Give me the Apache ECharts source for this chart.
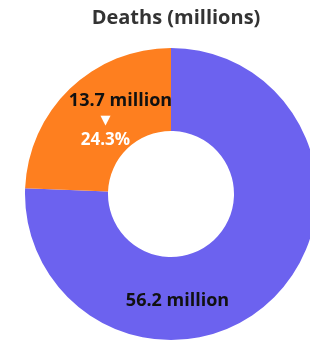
<!DOCTYPE html>
<html>
<head>
<meta charset="utf-8">
<script src="https://cdn.jsdelivr.net/npm/echarts@6/dist/echarts.min.js"></script>
<style>html,body{margin:0;padding:0;background:#fff;}#c{width:310px;height:343px;}</style>
</head>
<body>
<div id="c"></div>
<script>
var titleText = 'Deaths (millions)';
// total deaths and the highlighted part of it (millions)
var totalDeaths = 56.2;
var partDeaths = 13.7;
var categories = ['Rest', 'Part'];
var sliceValues = [totalDeaths - partDeaths, partDeaths];
var valueLabels = ['56.2 million', '13.7 million'];
var percentLabel = '24.3%';
var colors = ['#6C62EF', '#FE7F1F'];

var chart = echarts.init(document.getElementById('c'), null, {renderer: 'canvas'});
var data = categories.map(function (c, i) {
  var item = {name: c, value: sliceValues[i], itemStyle: {color: colors[i]}};
  if (i === 1) {
    item.label = {
      formatter: '{a|' + valueLabels[i] + '}\n{t|▼}\n{b|' + percentLabel + '}',
      rich: {
        a: {fontFamily: 'Open Sans', fontWeight: 'bold', fontSize: 18, color: '#111', lineHeight: 21, padding: [0, 0, 0, 30]},
        t: {fontFamily: 'DejaVu Sans', fontSize: 13, color: '#fff', lineHeight: 18},
        b: {fontFamily: 'Open Sans', fontWeight: 'bold', fontSize: 17, color: '#fff', lineHeight: 21}
      }
    };
  } else {
    item.label = {
      formatter: valueLabels[i],
      fontFamily: 'Open Sans', fontWeight: 'bold', fontSize: 18, color: '#111'
    };
  }
  return item;
});

chart.setOption({
  animation: false,
  title: {
    text: titleText, left: 171, textAlign: 'center', top: 3,
    textStyle: {fontFamily: 'Open Sans', fontWeight: 'bold', fontSize: 20, color: '#333'}
  },
  series: [{
    type: 'pie',
    center: [171, 194],
    radius: [63, 146],
    startAngle: 90,
    clockwise: true,
    label: {show: true, position: 'inside'},
    labelLine: {show: false},
    labelLayout: function (p) {
      return p.dataIndex === 0 ? {dx: -68, dy: 29} : {dx: 9, dy: 4};
    },
    emphasis: {disabled: true},
    data: data
  }]
});
</script>
</body>
</html>
